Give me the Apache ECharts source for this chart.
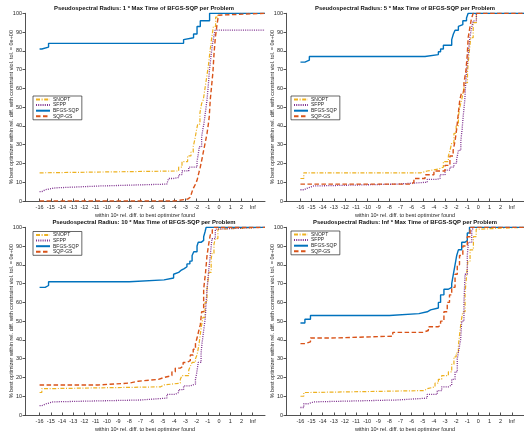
<!DOCTYPE html>
<html><head><meta charset="utf-8">
<script src="https://cdn.jsdelivr.net/npm/echarts@6/dist/echarts.min.js"></script>
<style>html,body{margin:0;padding:0;background:#fff}#c{width:524px;height:437px}</style>
</head><body><div id="c"></div>
<script>
// ---------- data ----------
const seriesNames = ['SNOPT', 'SFPP', 'BFGS-SQP', 'SQP-GS'];
const titles = [
  'Pseudospectral Radius: 1 * Max Time of BFGS-SQP per Problem',
  'Pseudospectral Radius: 5 * Max Time of BFGS-SQP per Problem',
  'Pseudospectral Radius: 10 * Max Time of BFGS-SQP per Problem',
  'Pseudospectral Radius: Inf * Max Time of BFGS-SQP per Problem'
];
const tickValues = [-16,-15,-14,-13,-12,-11,-10,-9,-8,-7,-6,-5,-4,-3,-2,-1,0,1,2,3];
const tickLabels = ['-16','-15','-14','-13','-12','-11','-10','-9','-8','-7','-6','-5','-4','-3','-2','-1','0','1','2','Inf'];
const yLabel = '% best optimizer within rel. diff. with constraint viol. tol. = 0e+00';

// Radius 1
const snopt_r1 = [[-16,15],[-15.9,16],[-3.6,18],[-3.3,21],[-2.8,24],[-2.5,26],[-2.3,29],[-2.15,33],[-2.0,38],[-1.9,41],[-1.7,47],[-1.55,52],[-1.4,54],[-1.25,60],[-1.1,66],[-0.95,72],[-0.8,80],[-0.65,87],[-0.5,93],[-0.3,98],[-0.1,100],[4.1,100]];
const sfpp_r1 = [[-16,5],[-15.8,6],[-15.5,7],[-14.6,8],[-10.6,9],[-4.65,10],[-4.5,12],[-4.05,12.5],[-3.6,14],[-3.3,16],[-2.7,18],[-1.96,21],[-1.85,25],[-1.75,29],[-1.55,34],[-1.45,38],[-1.35,41],[-1.22,47],[-1.07,54],[-0.95,62],[-0.85,70],[-0.7,78],[-0.6,83],[-0.48,87],[-0.35,91],[4.1,91]];
const bfgs_r1 = [[-16,81],[-15.8,82],[-15.2,84],[-3.16,86],[-3.0,87],[-2.27,89],[-1.96,93],[-1.67,96],[-0.84,100],[4.1,100]];
const sqpgs_r1 = [[-16,0],[-4,1],[-2.8,2],[-2.56,3],[-2.4,5],[-2.27,7],[-2.1,9],[-1.96,11],[-1.8,15],[-1.67,18],[-1.5,23],[-1.37,27],[-1.2,32],[-1.07,36],[-0.95,41],[-0.87,45],[-0.78,54],[-0.65,62],[-0.54,69],[-0.45,78],[-0.33,87],[-0.2,93],[-0.05,99],[0.05,100],[4.1,100]];

// Radius 5
const snopt_r5 = [[-16,12],[-15.7,15],[-5.2,16],[-4.6,17],[-3.6,18],[-3.15,21],[-2.7,24],[-2.55,27],[-2.4,31],[-2.2,36],[-2.0,40],[-1.8,45],[-1.67,50],[-1.5,54],[-1.37,58],[-1.2,63],[-0.98,69],[-0.85,78],[-0.69,87],[-0.47,95],[-0.18,100],[4.1,100]];
const sfpp_r5 = [[-16,6],[-15.7,7],[-15.3,8],[-14.8,9],[-7.3,10],[-4.6,11.5],[-3.75,12],[-3.45,14],[-3.0,16.5],[-2.56,18],[-2.2,20],[-1.96,22],[-1.8,27],[-1.58,32],[-1.47,38],[-1.37,45],[-1.22,54],[-1.15,62],[-1.07,69],[-0.92,78],[-0.77,87],[-0.62,92],[-0.47,96],[-0.18,100],[4.1,100]];
const bfgs_r5 = [[-16,74],[-15.6,75],[-15.2,77],[-4.8,78],[-3.6,79.5],[-3.4,81],[-3.15,83],[-2.4,86],[-2.25,89],[-2.1,91],[-1.8,93],[-1.7,94],[-1.4,96],[-1.07,97.5],[-0.92,100],[4.1,100]];
const sqpgs_r5 = [[-16,9],[-6.0,10],[-5.8,12],[-4.8,14],[-4.0,16],[-3.0,19],[-2.56,24],[-2.27,27],[-2.1,32],[-1.96,38],[-1.8,47],[-1.67,54],[-1.5,58],[-1.3,63],[-1.13,69],[-1.0,78],[-0.92,87],[-0.75,93],[-0.63,97],[-0.47,100],[4.1,100]];

// Radius 10
const snopt_r10 = [[-16,12],[-15.8,14],[-15.5,15],[-5.2,16],[-4.9,17],[-3.45,19],[-3.3,21],[-2.7,24],[-2.55,26],[-2.4,28],[-2.1,30],[-1.96,32],[-1.8,37],[-1.67,43],[-1.55,48],[-1.43,52],[-1.25,60],[-1.07,67],[-0.9,76],[-0.7,83],[-0.63,86],[-0.45,91],[-0.33,94],[-0.1,99],[0.05,100],[4.1,100]];
const sfpp_r10 = [[-16,5],[-15.8,6],[-15.4,7],[-14.8,8],[-7.0,9],[-4.65,11],[-3.9,12],[-3.6,13.5],[-3.16,15.5],[-2.56,16.5],[-2.1,19],[-2.0,22],[-1.85,28],[-1.6,33],[-1.52,38],[-1.37,45],[-1.22,52],[-1.15,60],[-1.07,67],[-0.92,77],[-0.78,85],[-0.63,94],[-0.33,99],[-0.18,100],[4.1,100]];
const bfgs_r10 = [[-16,68],[-15.5,69],[-15.2,71],[-8.0,72],[-4.9,73],[-4.05,75],[-3.9,76],[-3.6,77],[-3.4,78],[-3.1,79],[-2.86,80.5],[-2.6,82],[-2.4,85],[-2.25,87],[-1.96,90],[-1.85,92],[-1.6,93],[-1.37,95],[-1.25,97.5],[-1.15,100],[4.1,100]];
const sqpgs_r10 = [[-16,16],[-10.8,17],[-8.0,18],[-7.2,19],[-5.4,20],[-4.9,21],[-4.2,23],[-3.9,25],[-3.45,26],[-3.2,28],[-2.86,29],[-2.56,32],[-2.3,35],[-2.1,38],[-1.96,41],[-1.8,45],[-1.67,48],[-1.55,55],[-1.37,67],[-1.2,76],[-1.07,85],[-0.92,91],[-0.78,96],[-0.6,98.5],[-0.48,100],[4.1,100]];

// Radius Inf
const snopt_rInf = [[-16,10],[-15.7,12],[-15.1,13],[-4.9,14],[-4.6,15],[-3.9,17],[-3.6,19],[-3.3,21],[-2.7,23],[-2.4,27],[-2.2,31],[-2.0,33],[-1.8,37],[-1.65,45],[-1.55,50],[-1.4,55],[-1.2,65],[-1.05,75],[-0.95,82],[-0.75,88],[-0.45,95],[-0.2,99],[0,100],[4.1,100]];
const sfpp_rInf = [[-16,4],[-15.7,6],[-15.3,7],[-14.8,8],[-7.3,9],[-4.6,11],[-3.7,13],[-3.3,15],[-2.7,16],[-2.4,19],[-2.1,23],[-1.9,30],[-1.75,35],[-1.6,40],[-1.5,50],[-1.3,60],[-1.2,75],[-1.0,85],[-0.9,92],[-0.6,98],[-0.45,100],[4.1,100]];
const bfgs_rInf = [[-16,49],[-15.6,51],[-15.1,53],[-8.0,54],[-5.35,55],[-4.6,56],[-4.3,57],[-3.6,60],[-3.4,64],[-3.1,67],[-2.7,68],[-2.4,70],[-2.25,75],[-2.1,80],[-1.95,85],[-1.8,88],[-1.5,92],[-1.2,93],[-1.0,97],[-0.8,100],[4.1,100]];
const sqpgs_rInf = [[-16,38],[-15.6,39],[-15.1,41],[-13.2,42],[-7.7,44],[-5.0,45],[-4.5,47],[-3.6,48],[-3.4,50],[-3.1,55],[-2.8,60],[-2.6,64],[-2.4,68],[-2.1,75],[-1.9,80],[-1.7,85],[-1.4,90],[-1.0,95],[-0.75,100],[4.1,100]];

const panelData = [
  [snopt_r1, sfpp_r1, bfgs_r1, sqpgs_r1],
  [snopt_r5, sfpp_r5, bfgs_r5, sqpgs_r5],
  [snopt_r10, sfpp_r10, bfgs_r10, sqpgs_r10],
  [snopt_rInf, sfpp_rInf, bfgs_rInf, sqpgs_rInf]
];

// ---------- layout / style ----------
const FONT = '"Liberation Sans", Arial, Helvetica, sans-serif';
const AX = '#262626';
const X_MIN = -17.3, X_MAX = 4.1;
const layout = [
  {left: 25,  top: 13.3,  legendLeft: 33,  legendTop: 96},
  {left: 286, top: 13.3,  legendLeft: 291, legendTop: 96},
  {left: 25,  top: 227.3, legendLeft: 33,  legendTop: 231.5},
  {left: 286, top: 227.3, legendLeft: 291, legendTop: 231}
];
const PW = 240, PH = 187.7;
const styles = [
  {color: '#EDB120', type: [4, 1.6, 1, 1.6], width: 1.2},
  {color: '#7E2F8E', type: [1, 1.2], width: 1.3},
  {color: '#0072BD', type: 'solid', width: 1.4},
  {color: '#D95319', type: [4.5, 2.5], width: 1.4}
];

const grid = [], xAxis = [], yAxis = [], series = [], title = [], legend = [];
layout.forEach((L, g) => {
  grid.push({left: L.left, top: L.top, width: PW, height: PH});
  xAxis.push({
    type: 'value', gridIndex: g, min: X_MIN, max: X_MAX,
    splitLine: {show: false},
    axisLine: {show: true, onZero: false, lineStyle: {color: AX, width: 0.8}},
    axisTick: {show: true, inside: true, length: 2.5, customValues: tickValues, lineStyle: {color: AX, width: 0.8}},
    axisLabel: {show: true, customValues: tickValues, fontSize: 5.5, fontFamily: FONT, color: AX, margin: 3,
      formatter: v => tickLabels[tickValues.indexOf(Math.round(v))]},
    name: 'within 10{s|x} rel. diff. to best optimizer found', nameLocation: 'middle', nameGap: 11.5,
    nameMoveOverlap: false,
    nameTextStyle: {fontSize: 5.5, fontFamily: FONT, color: AX, rich: {s: {fontSize: 3.8, fontFamily: FONT, color: AX, verticalAlign: 'top', lineHeight: 4}}}
  });
  yAxis.push({
    type: 'value', gridIndex: g, min: 0, max: 100, interval: 10,
    splitLine: {show: false},
    axisLine: {show: true, onZero: false, lineStyle: {color: AX, width: 0.8}},
    axisTick: {show: true, inside: false, length: 2.5, lineStyle: {color: AX, width: 0.8}},
    axisLabel: {fontSize: 5.5, fontFamily: FONT, color: AX, margin: 3},
    name: yLabel, nameLocation: 'middle', nameGap: 10.5, nameMoveOverlap: false,
    nameTextStyle: {fontSize: 5.5, fontFamily: FONT, color: AX}
  });
  title.push({
    text: titles[g], left: L.left + PW / 2 - 1, top: L.top - 8, textAlign: 'center', padding: 0,
    textStyle: {fontSize: 5.9, fontWeight: 'bold', fontFamily: FONT, color: '#111'}
  });
  legend.push({
    data: seriesNames, orient: 'vertical', left: L.legendLeft, top: L.legendTop,
    itemWidth: 14, itemHeight: 4.5, itemGap: 0.6, padding: [1, 3, 1, 2],
    backgroundColor: '#fff', borderColor: AX, borderWidth: 0.7, borderRadius: 0,
    itemStyle: {opacity: 0},
    textStyle: {fontSize: 5, fontFamily: FONT, color: AX, padding: [0, 0, 0, -2]},
    selectedMode: false
  });
  panelData[g].forEach((d, i) => {
    series.push({
      type: 'line', name: seriesNames[i], xAxisIndex: g, yAxisIndex: g,
      data: d, step: 'end', symbol: 'none', showSymbol: false, clip: true,
      lineStyle: {color: styles[i].color, type: styles[i].type, width: styles[i].width},
      itemStyle: {color: styles[i].color},
      emphasis: {disabled: true}, animation: false
    });
  });
});

const chart = echarts.init(document.getElementById('c'), null, {renderer: 'canvas'});
chart.setOption({backgroundColor: '#fff', animation: false, grid, xAxis, yAxis, series, title, legend});
</script>
</body></html>
